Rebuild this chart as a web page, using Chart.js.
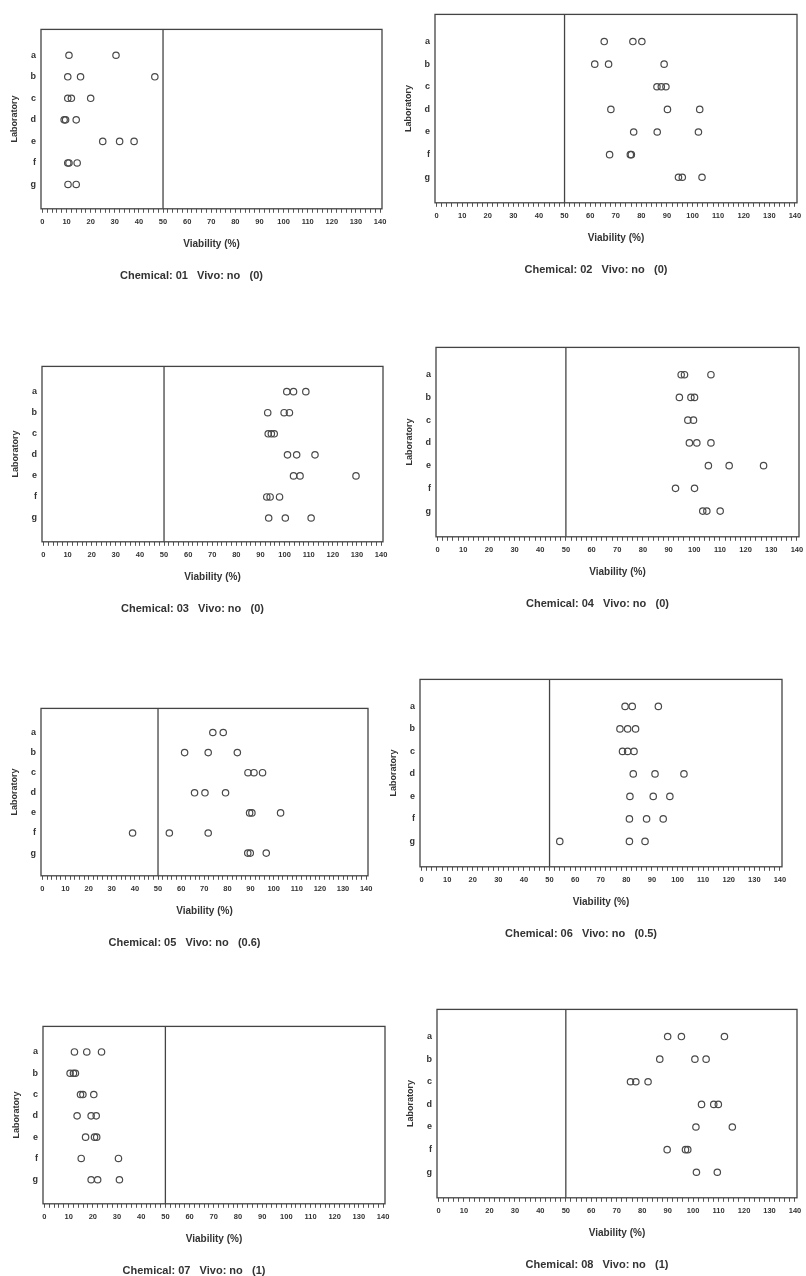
<!DOCTYPE html>
<html>
<head>
<meta charset="utf-8">
<script src="https://cdn.jsdelivr.net/npm/chart.js@4.4.1/dist/chart.umd.min.js"></script>
<style>
  body { margin: 0; background: #fff; width: 806px; height: 1276px; position: relative; overflow: hidden; }
  .panel { position: absolute; }
</style>
</head>
<body>
<script>
// laboratories (y axis) and viability ticks (x axis)
const labs = ['a', 'b', 'c', 'd', 'e', 'f', 'g'];
const xMajor = [0, 10, 20, 30, 40, 50, 60, 70, 80, 90, 100, 110, 120, 130, 140];
const cutoff = 50;

// viability (%) per laboratory a..g
const chem01 = [[11, 30.5], [10.5, 15.8, 46.6], [10.5, 12, 20], [9, 9.6, 14], [25, 32, 38], [10.5, 11, 14.4], [10.6, 14]];
const chem02 = [[65.5, 76.7, 80.2], [61.8, 67.2, 88.9], [86.1, 87.8, 89.6], [68.1, 90.2, 102.8], [77, 86.2, 102.3], [67.6, 75.7, 76.1], [94.5, 96, 103.7]];
const chem03 = [[100.9, 103.7, 108.8], [93, 99.8, 102], [93.2, 94.5, 95.7], [101.2, 105, 112.6], [103.7, 106.4, 129.6], [92.6, 94, 97.9], [93.4, 100.3, 111]];
const chem04 = [[94.9, 96.2, 106.5], [94.2, 98.7, 100.1], [97.5, 99.7], [98.1, 101, 106.5], [105.5, 113.6, 127], [92.7, 100.1], [103.3, 104.9, 110.1]];
const chem05 = [[73.7, 78.2], [61.5, 71.7, 84.3], [88.9, 91.5, 95.2], [65.8, 70.3, 79.2], [89.6, 90.6, 103], [39, 54.9, 71.7], [88.8, 89.9, 96.8]];
const chem06 = [[79.5, 82.3, 92.5], [77.5, 80.5, 83.6], [78.5, 80.5, 83], [82.7, 91.2, 102.5], [81.4, 90.5, 97], [81.2, 87.9, 94.4], [54, 81.2, 87.3]];
const chem07 = [[12.4, 17.5, 23.6], [10.6, 12, 12.8], [14.9, 15.9, 20.4], [13.5, 19.3, 21.4], [17, 20.7, 21.6], [15.2, 30.6], [19.3, 22, 31]];
const chem08 = [[90, 95.4, 112.3], [86.9, 100.7, 105.1], [75.4, 77.5, 82.3], [103.3, 108.1, 109.9], [101.1, 115.4], [89.8, 97, 97.9], [101.3, 109.5]];

const chemIds = ['01', '02', '03', '04', '05', '06', '07', '08'];
const vivo = ['no', 'no', 'no', 'no', 'no', 'no', 'no', 'no'];
const scores = ['0', '0', '0', '0', '0.6', '0.5', '1', '1'];
const chemData = [chem01, chem02, chem03, chem04, chem05, chem06, chem07, chem08];

// plot box of each panel on the page: left, top, right, bottom
const boxes = [
  [41, 25, 382, 208], [435, 10, 797, 202],
  [42, 362, 383, 541], [436, 343, 799, 536],
  [41, 704, 368, 875], [420, 675, 782, 866],
  [43, 1022, 385, 1203], [437, 1005, 797, 1197]
];

const ink = '#333';
const padTop = 6, padRight = 12, yAxisW = 40, xAxisH = 42;

// frame round the plot area and the 50% line
const framePlugin = {
  id: 'frame',
  beforeDatasetsDraw(chart) {
    const {ctx, chartArea: a, scales: {x}} = chart;
    ctx.save();
    ctx.strokeStyle = '#444';
    ctx.lineWidth = 1.3;
    ctx.strokeRect(a.left, a.top, a.right - a.left, a.bottom - a.top);
    const px = x.getPixelForValue(cutoff);
    ctx.beginPath();
    ctx.moveTo(px, a.top);
    ctx.lineTo(px, a.bottom);
    ctx.stroke();
    ctx.restore();
  }
};

function makePanel(i) {
  const [l, t, r, b] = boxes[i];
  const w = (r - l) + yAxisW + padRight;
  const h = padTop + (b - t) + xAxisH + 19 + 14 + 4;

  const div = document.createElement('div');
  div.className = 'panel';
  div.style.left = (l - yAxisW) + 'px';
  div.style.top = (t - padTop) + 'px';
  const canvas = document.createElement('canvas');
  canvas.width = w;
  canvas.height = h;
  canvas.style.width = w + 'px';
  canvas.style.height = h + 'px';
  div.appendChild(canvas);
  document.body.appendChild(div);

  const points = [];
  chemData[i].forEach((vals, lab) => {
    vals.forEach(v => points.push({x: v, y: lab}));
  });

  new Chart(canvas, {
    type: 'scatter',
    data: {
      datasets: [{
        data: points,
        pointStyle: 'circle',
        pointRadius: 3.2,
        borderWidth: 1.2,
        borderColor: '#4a4a4a',
        backgroundColor: 'rgba(255,255,255,0)'
      }]
    },
    plugins: [framePlugin],
    options: {
      responsive: false,
      animation: false,
      layout: { padding: { top: padTop, right: padRight, left: 0, bottom: 0 } },
      plugins: {
        legend: { display: false },
        tooltip: { enabled: false },
        title: {
          display: true,
          position: 'bottom',
          text: 'Chemical: ' + chemIds[i] + '   Vivo: ' + vivo[i] + '   (' + scores[i] + ')',
          color: ink,
          font: { family: 'Liberation Sans', size: 11, weight: 'bold', lineHeight: 1.2 },
          padding: { top: 19, bottom: 4 }
        }
      },
      scales: {
        x: {
          type: 'linear',
          min: -0.6,
          max: 140.8,
          afterBuildTicks(scale) {
            const ticks = [];
            for (let v = xMajor[0]; v <= xMajor[xMajor.length - 1]; v += 2) ticks.push({value: v});
            scale.ticks = ticks;
          },
          afterFit(scale) { scale.height = xAxisH; },
          border: { display: false },
          grid: {
            display: true,
            drawOnChartArea: false,
            drawTicks: true,
            tickLength: 4,
            color: '#555',
            lineWidth: 1
          },
          ticks: {
            autoSkip: false,
            maxRotation: 0,
            padding: 5,
            color: ink,
            font: { family: 'Liberation Sans', size: 7.5, weight: 'bold' },
            callback: (v) => xMajor.includes(v) ? String(v) : ''
          },
          title: {
            display: true,
            text: 'Viability (%)',
            color: ink,
            font: { family: 'Liberation Sans', size: 10, weight: 'bold', lineHeight: 1.2 },
            padding: { top: 0, bottom: 1 }
          }
        },
        y: {
          type: 'linear',
          reverse: true,
          min: -1.2,
          max: 7.13,
          afterBuildTicks(scale) {
            scale.ticks = labs.map((_, k) => ({value: k}));
          },
          afterFit(scale) { scale.width = yAxisW; },
          border: { display: false },
          grid: { display: false, drawTicks: false },
          ticks: {
            padding: 5,
            color: ink,
            font: { family: 'Liberation Sans', size: 9, weight: 'bold' },
            callback: (v) => labs[v]
          },
          title: {
            display: true,
            text: 'Laboratory',
            color: ink,
            font: { family: 'Liberation Sans', size: 9, weight: 'bold', lineHeight: 1.2 },
            padding: { top: 8, bottom: 0 }
          }
        }
      }
    }
  });
}

for (let i = 0; i < boxes.length; i++) makePanel(i);
</script>
</body>
</html>
